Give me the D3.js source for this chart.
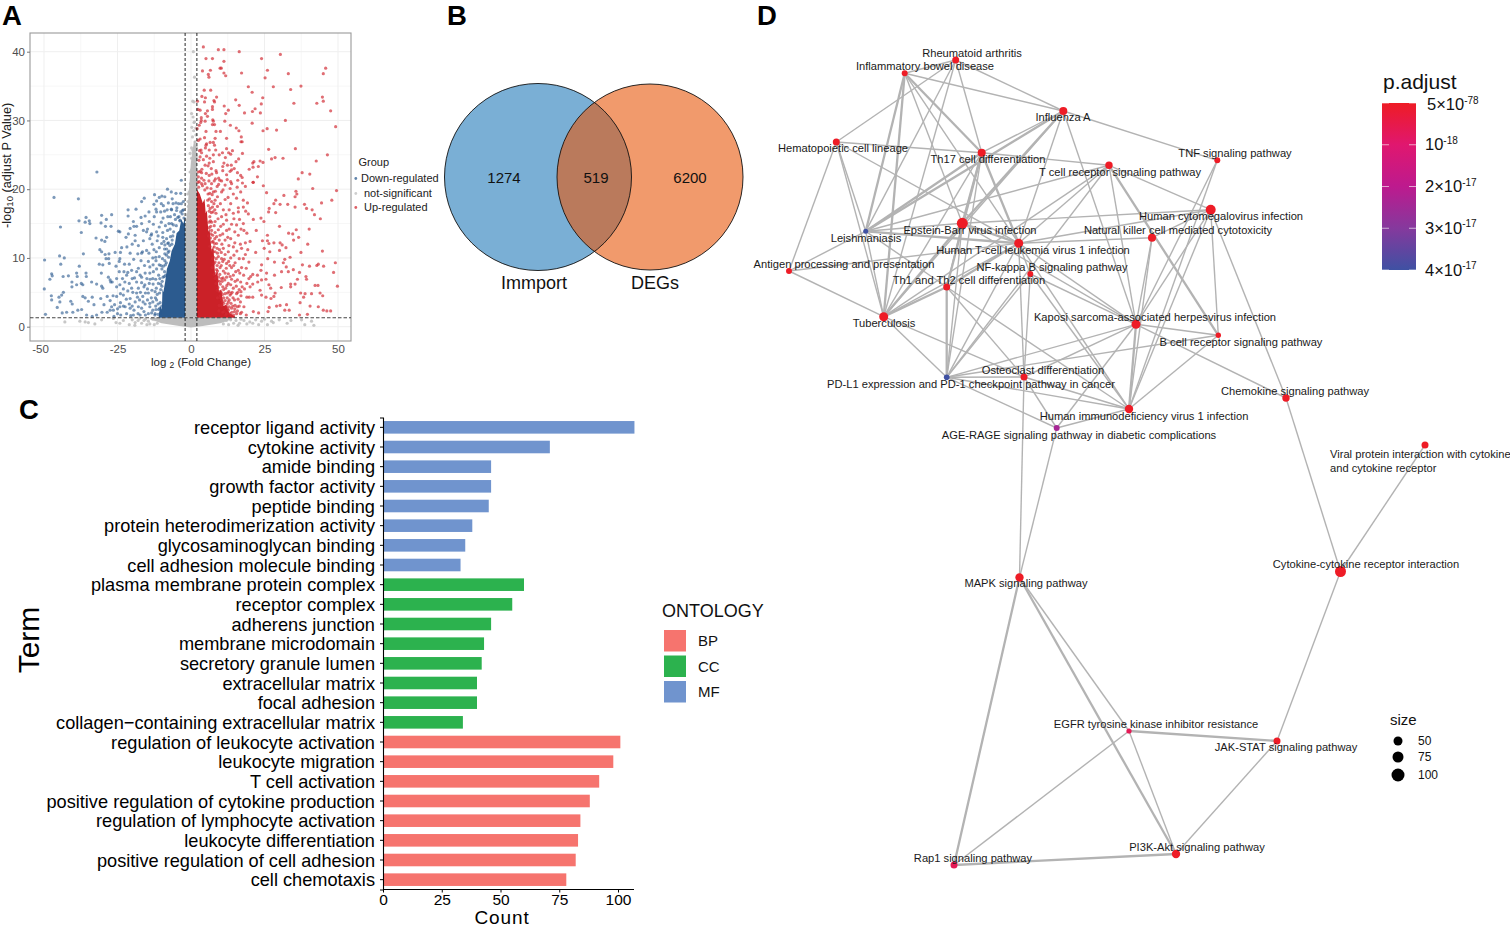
<!DOCTYPE html>
<html><head><meta charset="utf-8">
<script src="https://cdn.jsdelivr.net/npm/d3@7"></script>
<style>body{margin:0;background:#fff}svg{display:block}text{font-family:"Liberation Sans",Arial,sans-serif}</style>
</head><body><svg id="c" width="1510" height="928"></svg>
<script>
// ---------- Panel A data: [log2FC, -log10 padj]
const upRegulated=[[4.2,40.7],[9.3,40.3],[11.2,40.3],[16.4,40],[5.1,39],[7.3,39],[11.2,38.6],[24,39],[30.4,39.6],[3.9,37.2],[6.6,37.3],[9.9,37.6],[10.3,37.6],[5.9,36.7],[6.1,36.3],[11.2,36.9],[11.8,36.5],[17.2,36.9],[26,37.3],[25.2,36.2],[33.1,36.8],[45.8,37.6],[45,36.8],[4.5,34.4],[6.7,34.4],[19.5,34.9],[20.8,34.1],[28,34.9],[33.9,34.5],[37.4,35],[3.7,33.5],[4.9,33.3],[8.7,33.4],[4.6,32.7],[7.8,32.9],[8,32.7],[2.2,32.8],[15.2,33],[24.4,33.3],[23.9,32.4],[16.4,32.2],[35,32.5],[42.8,32.5],[45,32.8],[44.7,33.4],[7.3,32],[7.3,31.6],[11.3,32.1],[12.7,31.5],[11.8,31],[2.4,31.6],[3.1,31.5],[5.6,31.4],[4.9,31],[5.6,30.6],[18.2,31.1],[20.9,31.3],[21.8,31.7],[23.6,31.1],[47.5,31.4],[3.5,30.4],[3.5,30],[3.3,29.7],[4.8,29.9],[7.4,30.1],[7.6,29.9],[7.3,29.4],[8,29.4],[11.5,29.9],[13.4,29.3],[20.8,29.6],[32.1,30],[2.8,29.3],[2.1,28.8],[15.4,28.9],[16.3,28.5],[24.5,28.5],[25.9,28.8],[29.1,28.6],[49.2,29.1],[5.1,28.4],[8.5,28.4],[10,28.4],[17.1,27.6],[12.1,27.4],[17,26.9],[17.4,26.9],[2.5,27.1],[3.1,27.3],[4.6,27.5],[8.2,27.4],[7.6,26.8],[5.3,26.6],[6.5,26.8],[5.1,26.4],[8,26.4],[26.4,25.8],[35.5,25.9],[6.2,25.7],[3.4,25.7],[3.6,25.3],[8.4,25.7],[10.7,25.3],[12.1,25.9],[12.8,25.3],[14.1,25.6],[13.5,25.1],[17.5,25.2],[46.4,25],[3.1,24.7],[9.6,25],[7.6,25],[11.7,24.6],[16.2,24.4],[15.3,24],[12.4,23.5],[13.7,23.5],[11.2,23.8],[27.4,24.4],[28.6,24.6],[31.3,24.5],[42.6,24.1],[21.4,24],[23.5,24.1],[24.5,23.9],[21,23.8],[19.8,22.9],[21.1,23.2],[22.9,23.3],[6.2,23.8],[4.8,23.5],[5.8,23.4],[7.6,24],[10.8,23.3],[14.7,23],[13.8,22.8],[37.8,22.4],[40.4,22.2],[36.5,21.5],[22.6,21.8],[16.9,22],[17.4,21.7],[15.8,22.4],[13.3,22.6],[10.8,22.7],[8.5,22.7],[8.7,22.4],[7.1,22.2],[6.2,22],[2.5,22.5],[3.1,22.6],[3.6,22.4],[2.5,21.8],[3.6,21.6],[4.4,21.3],[8.3,21.5],[9.4,21.6],[9.8,21.3],[12.1,22.1],[13.5,21.1],[21.1,21],[2.8,21.1],[7,20.8],[9.4,20.7],[13.8,20.8],
[49.5,19.8],[41.4,20.1],[35.7,19.7],[36,19.3],[35.4,18.9],[31.6,19.1],[25.7,19.5],[24.6,20.5],[21.2,21],[47.9,18.4],[44.4,18],[38.6,17.8],[39.3,17.2],[41.2,17],[42,16.3],[44,15.7],[35.4,17.4],[32.9,17.8],[30.3,17.8],[28.8,18.4],[28.2,17.9],[26.6,17.2],[26.4,16.7],[28.8,16.6],[23.8,15.8],[24.8,15.3],[21.2,15.6],[19.5,16.4],[30.1,14.6],[35.8,14.1],[40.2,14.2],[33.2,13.6],[34.6,13.5],[36.6,13],[34.9,12.6],[39.7,12],[44.7,11],[37.4,10.8],[22.2,14],[26,13.3],[24.3,12.5],[26,12.5],[26.5,12.1],[28.2,12.2],[30.3,12.2],[31,11.9],[32.3,11.5],[30.1,11.1],[24.9,11.4],[26.8,10.9],[22,10.8],[33.7,10.1],[31.9,9.8],[31.4,9.3],[32.4,8.7],[34.8,8.3],[33.1,8],[37.9,9],[40.3,8.8],[42.8,8.9],[43.3,9.1],[45.1,8.8],[49.1,9.3],[48.5,7.9],[49.8,5.9],[24,9],[26.1,9.9],[28.4,9.4],[23.8,8.2],[25.7,7.8],[28.4,7.5],[30.8,8],[24,6.8],[25.5,6.9],[22.6,7.5],[21,7.6],[20.3,7.3],[19.7,7],[22.7,6.5],[21,6.2],[20.1,5.8],[36.9,7.9],[39.1,7.3],[39.3,6.9],[36.2,6.9],[35.4,6.2],[33.9,6.2],[33.9,5.8],[42.2,6],[43.2,6],[30.7,5.7],[26.5,6.1],[27.1,5.6],[23.5,5.3],[21,4.3],[19.8,4.3],[19,4.3],[17,5.1],[17,4.5],[24,4.6],[25.5,4.3],[28.6,4.9],[28.2,4.4],[38.8,4.8],[41,4.8],[37.3,4.9],[38.3,4.3],[43.9,4.9],[44.8,4.5],[17.4,5.8],[16.4,5.4],[27.2,4.1],[29.1,3],[30.3,3.1],[32.5,3.2],[31.9,2.4],[33.4,2.4],[36.9,1.7],[39.6,1.8],[40.5,3],[43.3,2.9],[45,2.4],[46.2,2.3],[47.5,2.3],[37.1,3.5],[26.6,2.8],[26.2,2.2],[16.4,3],[18,2.9],[21.2,2.2],[23,2],[18.8,1.7],[15.8,2.3],
[13.3,20.1],[10.4,19.6],[14.4,19.3],[17.8,18.4],[16.1,17.3],[17.8,17.4],[13.5,17.9],[11.6,18.5],[8.2,18.4],[9,17.5],[11,17],[13,17],[14.4,16.5],[16.1,16.7],[8.5,16.5],[10.4,16],[12.1,15.5],[13.8,14.9],[10.1,14.6],[8.2,15.3],[12.1,14],[17.8,15],[14.6,15.7],[18,14],[19,13.6],[20.1,12.4],[16.1,13.3],[13.5,12.8],[9.9,13.3],[8.2,13.7],[11.6,12.6],[14.4,11.6],[17.2,11.4],[11,11.4],[8.7,12.1],[12.7,10.9],[14.6,10.4],[16.4,9.9],[10.4,9.9],[8.2,10.9],[12.1,9.2],[15,9.3],[17.8,9.9],[17.2,8.6],[16.1,8.2],[13.8,8.6],[9.9,8.6],[8.2,9.4],[11.6,7.8],[13.3,7.3],[15.8,6.8],[12.7,6.3],[10.4,7],[8.7,7.8],[10.8,5.8],[14.4,5.6],[15.5,4.8],[13.3,4.6],[11.6,4.8],[9.6,5.1],[8.5,6.3],[10.4,3.9],[12.7,3.6],[15,3.1],[13.8,2.7],[12.1,2.9],[11.2,2.2],[13.3,1.9],[9.6,3.1],
[9,18.9],[7.6,19.6],[10.9,19.9],[12.6,18.8],[8.9,20.4],[6.8,20.1],[5.8,19.3],[7,18.2],[6.5,17.2],[7.5,16.7],[10,17.9],[11.9,16.3],[9.2,15.7],[6.6,15.4],[11,14.9],[13,14.2],[9.3,14.1],[7,14],[10.8,13.5],[12.5,13],[8.1,12.8],[14.9,12.2],[12.9,11.8],[9.7,11.2],[7.9,11.6],[15.6,11],[11.6,10.5],[13.5,10],[9.3,10.2],[7.7,10.1],[10.8,9.5],[13.2,8.9],[15.2,8],[8.9,8.9],[11,8.1],[12.7,7.7],[14.4,7.5],[9.4,7.2],[11.5,6.8],[13.5,6.1],[8.2,7],[10,6.2],[11.8,5.6],[15.4,5.9],[12.9,5.1],[8.9,5.3],[10.7,4.7],[14.3,4.2],[12.3,4.2],[9,4.2],[11.1,3.4],[13.6,3.4],[16,4],[14.8,2.2],[12.7,2.4],[10.8,2.1],[9.5,2.3],[16.8,1.9],[11.8,1.7],
[5.5,20.2],[4.8,20.8],[6.1,21.2],[3.9,20.5],[2.6,20.3],[5.2,22.3],[7.9,21.2],[6.9,23],[4.2,24.3],[5.3,24.8],[2.9,25.6],[4.9,26],[2.7,24.2],[6.4,24.5],[3.7,22.9],[7.2,19.2],[8.3,19.7],[6.3,18.6],[7.8,17.9],[6.9,16.6],[8.1,17],[6.4,16],[7,15.2],[7.9,14.7],[6.2,14.4],[7.4,13.3],[6.6,12.9],[8.7,13.1],[9.6,12.6],[7.2,12.3],[8.9,11.4],[7.5,10.9],[10.5,12],[9,10.7],[10.3,10.8],[8.6,9.9],[11.3,9.8],[9.5,9.3],[12.8,9.5],[10.3,8.9],[9,8.1],[12,8.5],[14.5,8.9],[9.8,7.6],[10.9,7.1],[12.1,7.2],[13.8,6.9],[15,6.6],[9.1,6.7],[10.6,6.6],[12.2,6],[14,5],[15.9,5],[16.9,6.5],[11.1,5.4],[12.4,4.9],[10.2,5],[13.6,4.8],[11.1,4.2],[13,3.9],[14.8,3.9],[9.9,4.5],[16.8,3.6],[14.2,3],[12.3,3.3],[10.5,3.1],[15.8,2.9],[17.2,2.1],[13.9,2.1],[12,1.9],[14.5,1.7],[15.5,1.9],[13,2.9],[18.5,10.5],[19.7,9.4],[18.8,8.5],[17.9,7.5],[19,6.3],[18.2,5.5],[16.6,7.8],[18.5,12.2],[16.8,12],[19.3,11.2],[15.5,14.8],[16.5,15.6],[14.9,13.8],[17,14.2],[18.6,16.8],[19.2,18],[15.5,18.7],[16.9,19.6],[18.5,20.4],[15.7,20.3],[11.6,20.6],[12.3,21.4],[10.4,21.2],[15.9,21.3],[17.5,20.9],
[5.9,17.6],[6.2,16.8],[5.7,18.4],[6.4,19.4],[4.7,19.9],[3.6,20.8],[2.4,21],[7.3,17.4],[6.1,15.2],[6.7,14.6],[5.9,13.2],[6.8,13.5],[7.5,12.4],[6.4,11.7],[7.1,11.1],[8,12.1],[7.3,9.9],[7.8,9.2],[7.2,8.6],[8.7,8.3],[7.9,7.6],[8.6,7.2],[9.7,6.6],[9.2,5.7],[10.1,4.2],[10.7,3.6],[11.6,3.8],[12.5,2.6],[13.7,1.6],[14.9,2.6]];
const downRegulated=[[-32,22.5],[-46.6,18.8],[-38.3,18.6],[-3.3,21.3],[-8,20],[-6.7,19.6],[-5.1,19.4],[-3.5,19.4],[-12.4,19.2],[-15.9,18.7],[-16.8,18.2],[-9.9,19],[-8.9,18.9],[-10.8,18.8],[-11.7,18.3],[-12.6,17.8],[-6.1,17.9],[-5.1,18],[-4.2,17.9],[-2.6,18.2],[-11.9,17.1],[-11.7,16.7],[-10.3,16.7],[-8.1,17],[-6.7,17.1],[-4.9,16.9],[-2.6,17],[-18.7,17.1],[-21.4,17],[-30.4,16.2],[-27,16.3],[-28.8,15.6],[-35.7,15.9],[-38.1,15.4],[-36,15.2],[-34.6,15.4],[-34.4,15],[-30.6,15.1],[-29.1,14.6],[-27.2,14.6],[-44.4,14.5],[-37.3,13.7],[-21.4,16.1],[-15.6,16.1],[-17,15.9],[-19.6,15.3],[-16.8,15],[-14.2,15.3],[-5.3,15.6],[-3.7,15.5],[-2.4,15.8],[-18.5,14.6],[-20.7,14.3],[-19.4,14.6],[-16.2,14],[-24.7,13.9],[-24.2,13.8],[-21.3,13.5],[-22.1,13],[-30.4,12.6],[-28.7,13],[-29.3,12.4],[-32.3,12.9],[-19,13.3],[-19,12.5],[-16.2,12.5],[-14,12.8],[-11.7,13.8],[-9.6,13.7],[-6.6,15],[-15.1,13.8],[-13.4,13.5],[-31,11.2],[-30.4,10.9],[-27.9,10.6],[-29.2,10.5],[-25.8,10.8],[-24,10.8],[-23.6,11.5],[-21.8,11.6],[-20.7,10.7],[-18.1,10.6],[-16.8,10.7],[-15.1,11.1],[-12.6,11.2],[-10.8,11.5],[-8.9,11.9],[-7.7,12.2],[-36.6,10.6],[-49.8,9.7],[-44.7,10.3],[-43.1,10],[-44.3,9.1],[-28.9,9.9],[-28,9.9],[-24.2,9.9],[-24.4,9.5],[-22.6,9.1],[-21,9.1],[-31.2,9.1],[-30,9],[-30.5,7.8],[-27.8,9.2],[-25.5,8.8],[-38,8.8],[-38.9,7.8],[-38.7,7.3],[-41.7,7.4],[-43.5,7.3],[-47.4,7.7],[-47.2,7.4],[-48,6.9],[-35.7,7.8],[-35.6,7.3],[-28.1,7.2],[-27.5,6.8],[-24.4,8],[-21.5,7.9],[-20.2,8.2],[-17.9,8.5],[-21.9,7.5],[-17.3,7.5],[-15.6,7.8],[-14,8.7],[-10.8,9],[-37.3,6.3],[-40.5,6.5],[-40.5,5.8],[-38.9,6.1],[-36.8,6.1],[-33.8,6.5],[-32.1,6.2],[-30.4,5.9],[-30,5.6],[-27.3,6.5],[-26.8,6.5],[-25.3,5.8],[-24.2,6.1],[-22.5,6.5],[-21,6.3],[-18.5,6.5],[-20.2,5.6],[-17.9,5.6],[-16,5.8],[-14.2,6.3],[-49.9,5.5],[-47.5,4.5],[-47.4,3.9],[-43.4,5],[-44,4.6],[-44.9,4.3],[-44.6,3.6],[-40.9,3.7],[-40.4,3.3],[-36.8,4.4],[-36,4.2],[-33.6,4.3],[-34.9,3.7],[-33,3.2],[-30.7,4.1],[-28.5,4.4],[-29.6,3.2],[-27,2.9],[-25.3,4.4],[-23,4.6],[-20.7,4.1],[-18.5,4.9],[-16.4,4.4],[-14.5,4.9],[-12.2,5.1],[-45.5,2.8],[-43.8,2],[-42.3,2.1],[-40.2,2.1],[-49.5,1.8],[-38.5,2.4],[-37.2,2.5],[-35.5,1.7],[-33.6,1.5],[-32.1,1.7],[-30.3,2.1],[-27.5,2.4],[-26.4,2.4],[-24.2,2.9],[-22.4,2.9],[-20.7,2.7],[-17.9,2.9],[-15.6,3.3],[-14,2.9],[-11.7,3.9],[-21.9,1.9],[-19.6,1.7],[-17.3,1.7],[-14.5,1.9],[-12.2,1.9],[-26.2,1.5],[-23.9,1.7],
[-19,3.6],[-16,2.2],[-13,3.6],[-11,2.5],[-12,6.9],[-9.9,5.9],[-15,7],[-12.8,8],[-11,7.5],[-9.9,8.4],[-8.4,9.3],[-13,10],[-10.8,10.2],[-8.9,10.6],[-14.5,9.5],[-17,9.6],[-19.5,9.8],[-7.5,11],[-9.6,13],[-11.5,12.5],[-13.2,12],[-8,14],[-10.8,14.5],[-12.8,14.9],[-9.5,15.8],[-7,16],[-14.3,16.7],[-6.2,13.2],[-17.5,3.9],[-20,3],[-22,4],[-24,3.5],[-26,3.2],[-18,1.9],[-15.5,4.9],[-13.5,4.2],[-12,3],[-16.8,6.4],[-19.2,7.1],[-23,5.5],[-25.3,7],[-16.5,10.9],[-20,12],[-6.6,17],[-7.5,15],[-14.8,5.5],[-10.5,3.5],[-11.5,4.7],
[-3.5,16.7],[-5.6,16.3],[-7.9,16],[-9,16.8],[-4.1,16],[-3,16.4],[-6,14.8],[-7.1,14.2],[-8.7,14.7],[-7,13.1],[-8.3,12.8],[-10,12.1],[-6.5,12],[-9,11.3],[-7.8,10.8],[-11.8,10.9],[-9.7,9.9],[-11.9,9.6],[-8.7,9],[-12.9,9],[-10.2,8.9],[-9,8],[-11.7,8.4],[-14,7.8],[-13,7],[-10.6,7],[-9.5,7.2],[-8.6,7.5],[-11.1,6.3],[-12.9,6.2],[-10.3,5.4],[-11.8,5.6],[-13.3,5.3],[-9.9,3],[-10.4,2],[-11.2,1.8],[-13,2.4],[-14.8,3.9],[-16.3,3.6],[-18.2,4.3],[-12.1,4.2],[-14,3.4],[-13.4,2],[-15.5,1.7],[-16.8,2.7],[-19.4,2.4],[-21,3.3],[-23,3],[-25,2.6],[-25,1.9],[-20.5,1.6],[-28.5,2.1],[-17.2,5],[-19.8,5],[-21.5,5.2],[-24,4.8],[-26.5,4.5],[-27.5,3.8],[-15.8,8.9],[-18.5,8],[-20,7],[-23.3,7],[-22.8,8],[-16.8,7.2],[-14.3,10.7],[-17.9,11.8],[-11.2,13.2],[-13.6,13.3],[-14.8,14.2],[-10.1,15.2],[-12.5,16],[-7.7,18],[-9.4,17.6],[-10.1,17.9],[-6.4,18.6],[-4.8,17.3],[-3.3,17.9],
[-3.8,15.4],[-5,14.7],[-5.9,13.8],[-6.4,12.6],[-7.2,11.8],[-7.6,10.1],[-8.3,10.4],[-8.9,9.6],[-9.4,8.8],[-9.1,7.3],[-9.8,6.6],[-10.3,6.2],[-10.7,4.9],[-11.2,3.3],[-10.6,2.7],[-11.9,2.5],[-12.3,1.7],[-2.9,16.9],[-4.5,15.9],[-7.9,12.1],[-9.2,12.4],[-8.3,11.3],[-12,10.1],[-13.9,6.9],[-15.7,6.1]];
const notSignificant=[[-42.9,.7],[-37.8,.8],[-36,.7],[-34.9,.6],[-32.7,.4],[-30.4,1],[-26.4,1.2],[-25.5,.6],[-24.2,.5],[-23,.9],[-21,.3],[-19.1,.2],[-18,.9],[-16.8,.5],[-15.5,1.1],[-14.5,.8],[16.5,.5],[18,.9],[20,.7],[22,1],[24,.8],[27.4,.8],[28,.6],[32.7,.5],[37.6,1],[38.7,.3],[41,.8],[41.8,.2],[30,1],[26,.3],[34,.9],
[.8,40],[1.2,36.3],[.6,32.8],[1,32.7],[.2,31],[1,29.7],[1.7,27.9],[1.4,26.9],[.6,25.7],[.2,24.5],[.8,25.4],[.2,22.8],[1,22.5],[-.3,22.5],[.6,21.3],[1.7,21.1],[1.4,23.7],[-.3,25.2],[-.6,19.6],[-1,18.2],[-1.5,15.5],[1.6,28.9],
[-20,1],[-19,.6],[-17.5,1.2],[-16,.9],[-14,.4],[-13,1.1],[-12.5,.3],[-11.5,.5],[-15,.3],[11,.4],[12,.9],[12.8,.3],[13.5,1],[14.5,.5],[15.3,.9],[16,.2],[17,1.1],[19,.4],[21,.5],[23,.3],[25,1.1],
[-1.5,14.5],[-1.3,16.3],[-.9,17.5],[-.2,20.8],[.3,21.5],[1.4,24.5],[1.8,24.7],[-1.7,13.9],[.2,26],[.9,28.5],[1.8,26.1],[1.2,29.8],[.5,27.6],[-1.1,19.3],[.7,30.5],[.3,29]];
// outlines of the solid (fully overplotted) clouds: log2FC and upper -log10 padj
const upCoreX=[2,3,4,4.6,5,5.4,5.9,6.3,7,7.6,8.2,9,9.5,10.3,11,12,13,15],upCoreTop=[20,19.3,18,18.6,16.5,16.9,13.8,14.3,11,11.8,7.5,8,5,5.5,3,3.2,2,1.5];
const downCoreX=[-2,-2.6,-3.3,-4,-4.9,-5.5,-6.6,-7.2,-8.2,-8.8,-9.4,-9.7,-9.9,-10.5,-11],downCoreTop=[16,15,15.6,14,13.6,12,11,9.6,8.4,6.5,5,5.5,2.5,3,1.4];
const nsCoreX=[-2,-1.7,-1.2,-.5,0,1,1.5,2],nsCoreTop=[13,15,17,21,24,27,27,25];
const nsBaseX=[-14,-10,-4,0,4,10,14],nsBaseLow=[1.1,.5,.1,-.1,.1,.5,1.1];
const xTicksA=[-50,-25,0,25,50],yTicksA=[0,10,20,30,40];
const groupLabels=["Down-regulated","not-significant","Up-regulated"];
// ---------- Panel B
const vennSets=["Immport","DEGs"],vennCounts=[1274,519,6200];
// ---------- Panel C
const terms=["receptor ligand activity","cytokine activity","amide binding","growth factor activity","peptide binding","protein heterodimerization activity","glycosaminoglycan binding","cell adhesion molecule binding","plasma membrane protein complex","receptor complex","adherens junction","membrane microdomain","secretory granule lumen","extracellular matrix","focal adhesion","collagen\u2212containing extracellular matrix","regulation of leukocyte activation","leukocyte migration","T cell activation","positive regulation of cytokine production","regulation of lymphocyte activation","leukocyte differentiation","positive regulation of cell adhesion","cell chemotaxis"];
const counts=[107,71,46,46,45,38,35,33,60,55,46,43,42,40,40,34,101,98,92,88,84,83,82,78];
const ontology=["MF","MF","MF","MF","MF","MF","MF","MF","CC","CC","CC","CC","CC","CC","CC","CC","BP","BP","BP","BP","BP","BP","BP","BP"];
const ontologyLevels=["BP","CC","MF"];
const countTicks=[0,25,50,75,100];
// ---------- Panel D: layout coordinates, size, p.adjust (unit 1e-17), label anchor
const nodes=[
["RA","Rheumatoid arthritis",205.7,30,25,.01,222,23],
["IBD","Inflammatory bowel disease",154.7,43.3,12,.01,175,36],
["FLU","Influenza A",313.3,81,38,.01,313,87],
["HEMA","Hematopoietic cell lineage",86.3,112,25,.01,93,118],
["TH17","Th17 cell differentiation",231.7,122.7,38,.01,238,129],
["TCR","T cell receptor signaling pathway",359,135.3,30,.01,370,142],
["TNF","TNF signaling pathway",467.3,130.3,12,.01,485,123],
["HCMV","Human cytomegalovirus infection",460.7,179.7,62,.01,471,186],
["NK","Natural killer cell mediated cytotoxicity",402,207.7,38,.01,428,200],
["EBV","Epstein-Barr virus infection",212.3,193.3,75,.01,220,200],
["LEI","Leishmaniasis",115.7,201.3,0,4,116,208],
["HTLV","Human T-cell leukemia virus 1 infection",268.7,213.3,50,.01,283,220],
["AG","Antigen processing and presentation",39,241,12,.01,94,234],
["NFKB","NF-kappa B signaling pathway",280.3,244,12,.01,302,237],
["TH1","Th1 and Th2 cell differentiation",196.7,257,25,.01,219,250],
["TB","Tuberculosis",133.7,286.7,50,.01,134,293],
["KSHV","Kaposi sarcoma-associated herpesvirus infection",386,294.3,50,.01,405,287],
["BCR","B cell receptor signaling pathway",468.3,305.3,5,.01,491,312],
["OC","Osteoclast differentiation",274,347,25,.01,293,340],
["PDL1","PD-L1 expression and PD-1 checkpoint pathway in cancer",196.7,347.3,8,4,221,354],
["HIV","Human immunodeficiency virus 1 infection",379,379,42,.01,394,386],
["AGE","AGE-RAGE signaling pathway in diabetic complications",306.7,398,12,2.4,329,405],
["CHEM","Chemokine signaling pathway",536,368,30,.01,545,361],
["VIRAL","Viral protein interaction with cytokine|and cytokine receptor",675,415,25,.01,580,424],
["CCR","Cytokine-cytokine receptor interaction",590.5,541.5,75,.01,616,534],
["MAPK","MAPK signaling pathway",269.5,547.5,42,.01,276,553],
["EGFR","EGFR tyrosine kinase inhibitor resistance",379,701,3,.65,406,694],
["JAK","JAK-STAT signaling pathway",527,711,25,.01,536,717],
["PI3K","PI3K-Akt signaling pathway",426,824,42,.01,447,817],
["RAP1","Rap1 signaling pathway",204,835,25,.65,223,828]];
const thickEdges=["IBD-LEI","IBD-TH17","IBD-TB","FLU-EBV","TH17-EBV","TH17-HTLV","TH17-LEI","TH1-TB","TH1-PDL1","EBV-HTLV","TCR-BCR","EBV-TB","TH17-TH1","FLU-LEI","KSHV-HIV","MAPK-RAP1","MAPK-PI3K","PI3K-RAP1","EGFR-JAK","LEI-HTLV","TH1-HTLV"];
const thinEdges=["RA-IBD","RA-HEMA","IBD-FLU","RA-FLU","IBD-EBV","IBD-HTLV","RA-LEI","RA-TB","RA-TH17","HEMA-TH17","HEMA-LEI","HEMA-AG","HEMA-TB","HEMA-HTLV","FLU-TH17","FLU-TB","FLU-HTLV","FLU-TNF","FLU-KSHV","TH17-TCR","TH17-TB","TH17-PDL1","TCR-HTLV","TCR-TB","TCR-HCMV","TCR-PDL1","TCR-KSHV","TCR-LEI","EBV-HCMV","EBV-TH1","EBV-PDL1","EBV-LEI","EBV-KSHV","LEI-TB","LEI-AG","LEI-TH1","HTLV-AG","HTLV-NK","HTLV-HCMV","HTLV-TB","HTLV-KSHV","HTLV-HIV","HTLV-PDL1","HTLV-OC","HTLV-NFKB","AG-TB","TH1-OC","TH1-HIV","NFKB-HIV","NFKB-KSHV","NFKB-PDL1","NFKB-OC","TB-PDL1","TB-OC","HCMV-NK","HCMV-KSHV","HCMV-HIV","HCMV-BCR","HCMV-CHEM","TNF-KSHV","TNF-HIV","NK-KSHV","NK-HIV","KSHV-BCR","KSHV-CHEM","KSHV-PDL1","KSHV-AGE","KSHV-OC","BCR-PDL1","BCR-HIV","PDL1-OC","PDL1-HIV","PDL1-AGE","OC-HIV","OC-AGE","OC-MAPK","AGE-MAPK","CHEM-CCR","VIRAL-CCR","CCR-JAK","JAK-PI3K","EGFR-MAPK","EGFR-RAP1","EGFR-PI3K","HIV-AGE"];
const padjStops=[0,1,2,3,4],padjColors=["#ee1c25","#e0176f","#bd1a8e","#85399d","#3f51a3"];
const padjLabels=[["5×10","-78"],["10","-18"],["2×10","-17"],["3×10","-17"],["4×10","-17"]];
const sizeLevels=[50,75,100];

const svg=d3.select("#c");
const fnt=(s,x,y,size,o={})=>s.append("text").attr("x",x).attr("y",y).attr("font-size",size).attr("fill",o.fill||"#000").attr("text-anchor",o.anchor||"start").attr("font-weight",o.weight||null);
[["A",2,25],["B",447,25],["C",19,419],["D",757,25]].forEach(d=>fnt(svg,d[1],d[2],27.5,{weight:"bold"}).text(d[0]));

// ===== A
const xA=d3.scaleLinear().domain([-50,50]).range([44,338]);
const yA=d3.scaleLinear().domain([0,40]).range([326.7,51.7]);
const A=svg.append("g");
const pL=30,pR=351,pT=33,pB=341;
[-37.5,-12.5,12.5,37.5].forEach(v=>A.append("line").attr("x1",xA(v)).attr("x2",xA(v)).attr("y1",pT).attr("y2",pB).attr("stroke","#f7f7f7"));
[5,15,25,35].forEach(v=>A.append("line").attr("y1",yA(v)).attr("y2",yA(v)).attr("x1",pL).attr("x2",pR).attr("stroke","#f7f7f7"));
xTicksA.forEach(v=>A.append("line").attr("x1",xA(v)).attr("x2",xA(v)).attr("y1",pT).attr("y2",pB).attr("stroke","#efefef"));
yTicksA.forEach(v=>A.append("line").attr("y1",yA(v)).attr("y2",yA(v)).attr("x1",pL).attr("x2",pR).attr("stroke","#efefef"));
const core=(xs,ys,base,c)=>A.append("path").datum(xs.map((x,i)=>[x,ys[i],base[i]]))
  .attr("d",d3.area().x(d=>xA(d[0])).y0(d=>yA(d[2])).y1(d=>yA(d[1]))).attr("fill",c);
const dots=(data,c,r,o)=>A.append("g").selectAll("circle").data(data).join("circle")
  .attr("cx",d=>xA(d[0])).attr("cy",d=>yA(d[1])).attr("r",r).attr("fill",c).attr("fill-opacity",o);
const blue="#2c5b8f",red="#cb2128",grey="#bdbdbd";
core(nsBaseX,nsBaseX.map(()=>1.3),nsBaseLow,grey);
core(nsCoreX,nsCoreTop,nsCoreX.map(()=>1.3),grey);
dots(notSignificant,grey,1.6,.85);
core(downCoreX,downCoreTop,downCoreX.map(()=>1.3),blue);
dots(downRegulated,blue,1.6,.62);
core(upCoreX,upCoreTop,upCoreX.map(()=>1.3),red);
dots(upRegulated,"#d12a32",1.6,.68);
A.append("rect").attr("x",pL).attr("y",pT).attr("width",pR-pL).attr("height",pB-pT).attr("fill","none").attr("stroke","#9a9a9a").attr("stroke-width",1.1);
[-2,2].forEach(v=>A.append("line").attr("x1",xA(v)).attr("x2",xA(v)).attr("y1",pT).attr("y2",pB).attr("stroke","#111").attr("stroke-width",.9).attr("stroke-dasharray","3 2"));
A.append("line").attr("x1",pL).attr("x2",pR).attr("y1",yA(1.3)).attr("y2",yA(1.3)).attr("stroke","#444").attr("stroke-width",1).attr("stroke-dasharray","3.5 2");
const ax=A.append("g").attr("transform",`translate(0,${pB})`).call(d3.axisBottom(xA).tickValues(xTicksA).tickFormat(String).tickSize(0).tickPadding(4));
const ay=A.append("g").attr("transform",`translate(${pL},0)`).call(d3.axisLeft(yA).tickValues(yTicksA).tickSize(3).tickPadding(2));
[ax,ay].forEach(g=>{g.select(".domain").remove();g.selectAll("text").attr("font-size",11.5).attr("fill","#4d4d4d").attr("font-family",null);g.selectAll("line").attr("stroke","#777")});
ax.selectAll("text").attr("dx",(d)=>d==-50?-4:0);
const xl=fnt(A,151,366,11.5,{fill:"#222"});xl.append("tspan").text("log ");xl.append("tspan").attr("font-size",8.5).attr("dy",2).text("2");xl.append("tspan").attr("dy",-2).text(" (Fold Change)");
const yl=A.append("text").attr("transform","translate(11,228) rotate(-90)").attr("font-size",12.8).attr("fill","#222");
yl.append("tspan").text("-log");yl.append("tspan").attr("font-size",9.5).attr("dy",2).text("10");yl.append("tspan").attr("dy",-2).text(" (adjust P Value)");
fnt(A,358.5,166,11,{fill:"#222"}).text("Group");
const groupCols=[blue,grey,"#d12a32"],groupX=[361,364,364],groupY=[182,197,211];
groupLabels.forEach((t,i)=>{fnt(A,groupX[i],groupY[i],11,{fill:"#222"}).text(t);
  A.append("circle").attr("cx",355.8).attr("cy",groupY[i]-3.5).attr("r",1.4).attr("fill",groupCols[i]).attr("fill-opacity",.75)});

// ===== B
const B=svg.append("g");
const cL=[538,177,93.5],cR=[650,177,93];
B.append("clipPath").attr("id","cl").append("circle").attr("cx",cL[0]).attr("cy",cL[1]).attr("r",cL[2]);
B.append("circle").attr("cx",cL[0]).attr("cy",cL[1]).attr("r",cL[2]).attr("fill","#7aafd5");
B.append("circle").attr("cx",cR[0]).attr("cy",cR[1]).attr("r",cR[2]).attr("fill","#f19a6c");
B.append("circle").attr("cx",cR[0]).attr("cy",cR[1]).attr("r",cR[2]).attr("fill","#ba7a5c").attr("clip-path","url(#cl)");
[cL,cR].forEach(c=>B.append("circle").attr("cx",c[0]).attr("cy",c[1]).attr("r",c[2]).attr("fill","none").attr("stroke","#111").attr("stroke-width",.9));
[504,596,690].forEach((x,i)=>fnt(B,x,182.5,15,{anchor:"middle",fill:"#111"}).text(vennCounts[i]));
[534,655].forEach((x,i)=>fnt(B,x,289,18,{anchor:"middle",fill:"#111"}).text(vennSets[i]));

// ===== C
const C=svg.append("g");
const xC=d3.scaleLinear().domain([0,100]).range([383,618]);
const yC=d3.scaleBand().domain(terms).range([417.5,889.5]).paddingInner(.36).paddingOuter(.18);
const ontCol=d3.scaleOrdinal().domain(ontologyLevels).range(["#f6746e","#2cb24e","#7094ce"]);
C.selectAll("rect").data(terms).join("rect").attr("x",xC(0)).attr("y",d=>yC(d)).attr("width",(d,i)=>xC(counts[i])-xC(0)).attr("height",yC.bandwidth()).attr("fill",(d,i)=>ontCol(ontology[i]));
const cy=C.append("g").attr("transform","translate(383,0)").call(d3.axisLeft(yC).tickSize(3).tickPadding(5));
const cx=C.append("g").attr("transform","translate(0,889.5)").call(d3.axisBottom(xC).tickValues(countTicks).tickSize(3).tickPadding(1.5));
cy.selectAll("text").attr("font-size",18.2).attr("fill","#000").attr("font-family",null).attr("dy","0.37em");
cx.selectAll("text").attr("font-size",15.5).attr("fill","#000").attr("font-family",null);
[cy,cx].forEach(g=>{g.select(".domain").attr("stroke","#000").attr("stroke-width",1.1);g.selectAll("line").attr("stroke","#000")});
cx.select(".domain").attr("d","M383,0H634");
C.append("text").attr("transform","translate(39,640) rotate(-90)").attr("text-anchor","middle").attr("font-size",30).text("Term");
fnt(C,502,924.3,19,{anchor:"middle"}).attr("letter-spacing",.9).text("Count");
fnt(C,662,617,18,{fill:"#111"}).text("ONTOLOGY");
ontologyLevels.forEach((o,i)=>{C.append("rect").attr("x",664).attr("y",630+i*25.5).attr("width",22).attr("height",21.5).attr("fill",ontCol(o));
  fnt(C,698,646+i*25.5,15,{fill:"#111"}).text(o)});

// ===== D
const D=svg.append("g");
const xD=d3.scaleLinear().domain([0,760]).range([750,1510]);
const yD=d3.scaleLinear().domain([0,898]).range([30,928]);
const rD=d3.scaleLinear().domain([0,100]).range([2.5,6.5]);
const colD=d3.scaleLinear().domain(padjStops).range(padjColors);
const byId=new Map(nodes.map(n=>[n[0],n]));
const edgeLayer=(list,w)=>D.append("g").selectAll("line").data(list).join("line")
  .attr("x1",e=>xD(byId.get(e.split("-")[0])[2])).attr("y1",e=>yD(byId.get(e.split("-")[0])[3]))
  .attr("x2",e=>xD(byId.get(e.split("-")[1])[2])).attr("y2",e=>yD(byId.get(e.split("-")[1])[3]))
  .attr("stroke","#b3b3b3").attr("stroke-width",w);
edgeLayer(thinEdges,1.4);edgeLayer(thickEdges,2.3);
D.append("g").selectAll("circle").data(nodes).join("circle").attr("cx",n=>xD(n[2])).attr("cy",n=>yD(n[3])).attr("r",n=>rD(n[4])).attr("fill",n=>colD(n[5]));
nodes.forEach(n=>{const parts=n[1].split("|");
  parts.forEach((t,i)=>fnt(D,xD(n[6]),yD(n[7])+3.7+i*14,11.15,{anchor:parts.length>1?"start":"middle",fill:"#1a1a1a"}).text(t))});
// colour bar
fnt(D,1383,89,21,{fill:"#111"}).text("p.adjust");
const grad=svg.append("defs").append("linearGradient").attr("id","pg").attr("x1",0).attr("x2",0).attr("y1",0).attr("y2",1);
padjColors.forEach((c,i)=>grad.append("stop").attr("offset",i/4).attr("stop-color",c));
const yBar=d3.scaleLinear().domain([0,4]).range([103,270]);
D.append("rect").attr("x",1382).attr("y",yBar(0)).attr("width",34).attr("height",yBar(4)-yBar(0)).attr("fill","url(#pg)");
padjStops.forEach((v,i)=>{[[1382,1389],[1409,1416]].forEach(s=>D.append("line").attr("x1",s[0]).attr("x2",s[1]).attr("y1",yBar(v)).attr("y2",yBar(v)).attr("stroke","#fff").attr("stroke-opacity",.6));
  const t=fnt(D,i==0?1427:1425,yBar(v)+ (i==0?7:5.5),16.5,{fill:"#111"});t.append("tspan").text(padjLabels[i][0]);t.append("tspan").attr("font-size",10).attr("dy",-6.5).text(padjLabels[i][1])});
// size legend
fnt(D,1390,725,15,{fill:"#111"}).text("size");
const sizeY=[741,757,775];
sizeLevels.forEach((s,i)=>{D.append("circle").attr("cx",1398).attr("cy",sizeY[i]).attr("r",rD(s)).attr("fill","#000");
  fnt(D,1418,sizeY[i]+4,12,{fill:"#111"}).text(s)});
</script></body></html>
